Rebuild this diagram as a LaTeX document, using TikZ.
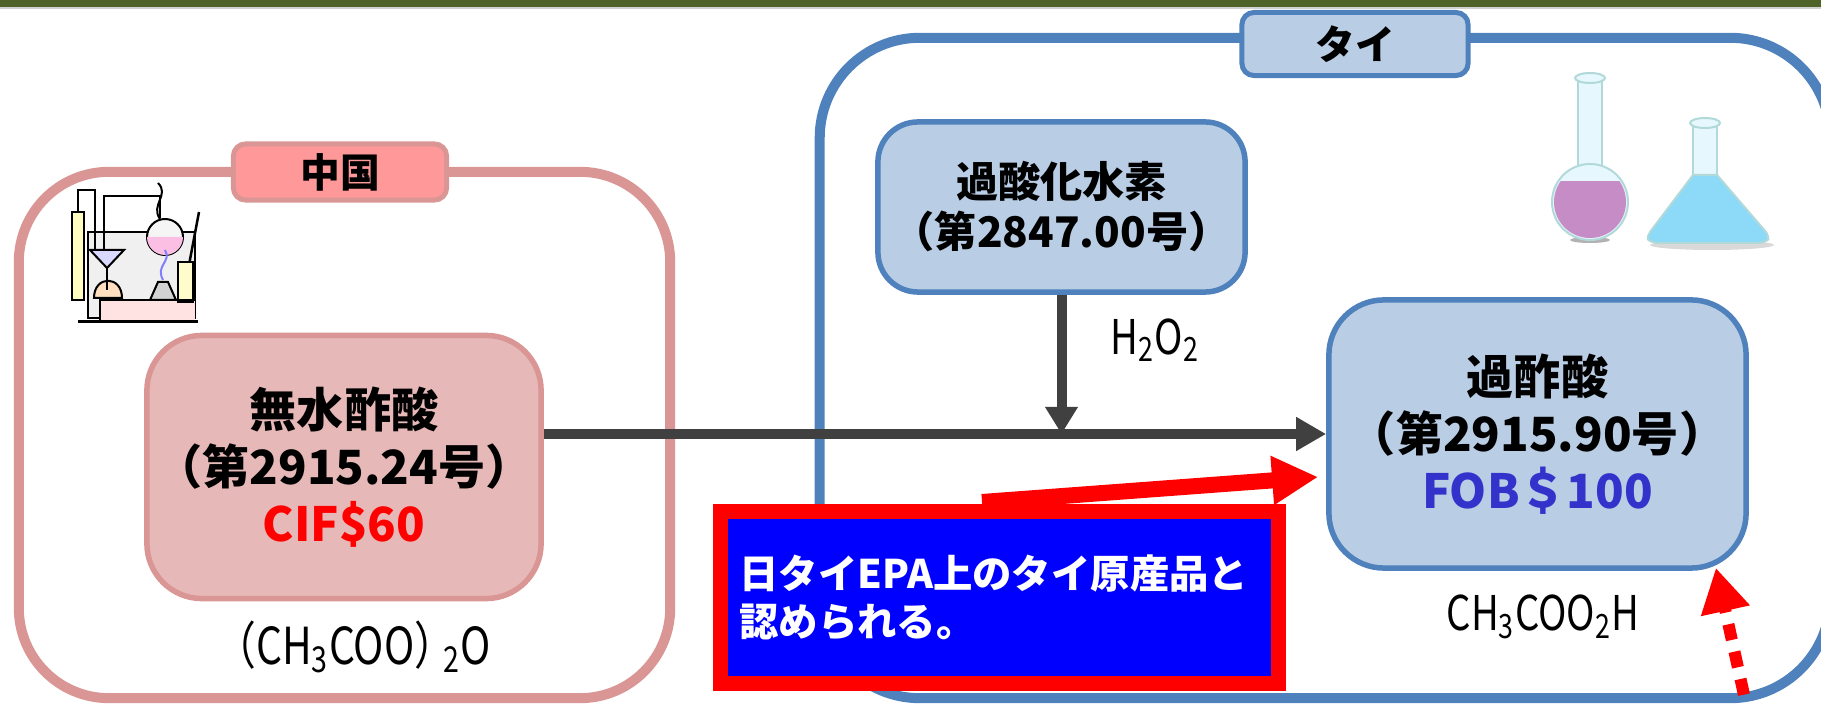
\documentclass[tikz,border=0pt]{standalone}
\usepackage{fontspec}
\usepackage{graphicx}
\setmainfont{Noto Sans CJK JP}
\usetikzlibrary{arrows.meta}
\usetikzlibrary{calc}
\definecolor{barolive}{HTML}{4F6228}
\definecolor{pinkline}{HTML}{D99694}
\definecolor{pinklabel}{HTML}{FF9999}
\definecolor{pinkfill}{HTML}{E6B9B8}
\definecolor{blueline}{HTML}{4F81BD}
\definecolor{bluefill}{HTML}{B9CDE5}
\definecolor{arrowgray}{HTML}{404040}
\definecolor{fobblue}{HTML}{3333CC}
\newcommand{\narrowtxt}[1]{\scalebox{0.8}[1]{#1}}
\newcommand{\bigjp}{\fontsize{13.4}{16.2}\selectfont\bfseries}
\begin{document}
\begin{tikzpicture}[x=0.01cm, y=-0.01cm,
	region/.style={draw, line width=0.1cm, inner sep=0pt},
	tag/.style={draw, line width=0.05cm, rounded corners=0.12cm, inner sep=0pt, font=\fontsize{11.3}{13}\selectfont\bfseries},
	item/.style={draw, line width=0.055cm, inner sep=0pt, align=center},
	formula/.style={inner sep=0pt, font=\fontsize{13.6}{15}\selectfont},
	flow/.style={draw=arrowgray, line width=0.1cm, -{Triangle[length=0.3cm, width=0.32cm]}}]
	\useasboundingbox (0,0) rectangle (1821,704);
	\clip (0,0) rectangle (1821,704);
	\fill[barolive] (0,0) rectangle (1821,7.5);
	\fill[gray!35] (0,7.5) rectangle (1821,9);
	\node[region, draw=pinkline, rounded corners=0.9cm, minimum width=6.51cm, minimum height=5.26cm] (china) at (344.5,435) {};
	\node[region, draw=blueline, rounded corners=1cm, minimum width=10.1cm, minimum height=6.6cm] (thai) at (1325,368) {};
	\node[tag, draw=pinkline, fill=pinklabel, minimum width=2.13cm, minimum height=0.56cm] (chinatag) at (340,172) {中国};
	\node[tag, draw=blueline, fill=bluefill, minimum width=2.26cm, minimum height=0.63cm] (thaitag) at (1355,44) {タイ};
	\draw[line width=0.015cm, fill=gray!12] (88,232) rectangle (195,318);
	\fill[pink!45] (100,300) rectangle (195,322);
	\draw[line width=0.02cm, fill=yellow!25] (72,212) rectangle (84,300);
	\draw[line width=0.025cm] (78,212) -- (78,190) -- (95,190) -- (95,250);
	\draw[line width=0.025cm] (104,250) -- (104,196) -- (160,196) -- (160,218);
	\draw[line width=0.02cm, fill=gray!8] (165,237) circle (18);
	\fill[magenta!25] (147,237) arc (180:0:18) -- cycle;
	\draw[line width=0.02cm] (160,219) .. controls (150,205) and (170,195) .. (158,183);
	\filldraw[line width=0.02cm, fill=blue!15] (90,250) -- (124,250) -- (107,268) -- cycle;
	\filldraw[line width=0.02cm, fill=orange!25] (94,298) .. controls (94,275) and (122,275) .. (122,298) -- cycle;
	\draw[line width=0.02cm] (107,268) -- (107,290);
	\filldraw[line width=0.02cm, fill=gray!35] (150,300) -- (158,282) -- (168,282) -- (176,300) -- cycle;
	\draw[line width=0.02cm, blue!50] (163,280) .. controls (155,265) and (172,262) .. (165,250);
	\draw[line width=0.025cm] (182,302) -- (199,212);
	\filldraw[line width=0.02cm, fill=yellow!20] (178,262) rectangle (193,302);
	\draw[line width=0.03cm] (78,322) -- (198,322);
	\draw[line width=0.02cm] (100,322) -- (100,300) -- (196,300);
	\draw[line width=0.02cm, draw=teal!30, fill=cyan!10] (1578,80) rectangle (1602,170);
	\draw[line width=0.02cm, draw=teal!30, fill=cyan!10] (1590,78) ellipse (15 and 5);
	\fill[gray!60] (1590,240) ellipse (20 and 3);
	\draw[line width=0.02cm, draw=teal!30, fill=cyan!10] (1590,202) circle (38);
	\begin{scope}
		\clip (1550,182) rectangle (1630,242);
		\fill[violet!45] (1590,202) circle (36);
	\end{scope}
	\draw[line width=0.02cm, draw=teal!30, fill=cyan!10] (1693,125) rectangle (1717,178);
	\draw[line width=0.02cm, draw=teal!30, fill=cyan!10] (1705,123) ellipse (15 and 5);
	\fill[gray!30] (1712,245) ellipse (62 and 5);
	\filldraw[line width=0.02cm, draw=teal!30, fill=cyan!45] (1693,175) -- (1650,232) .. controls (1646,240) .. (1656,243) -- (1760,243) .. controls (1770,240) .. (1766,232) -- (1717,175) -- cycle;
	\node[item, draw=pinkline, fill=pinkfill, rounded corners=0.55cm, minimum width=3.94cm, minimum height=2.63cm, font=\bigjp] (anh) at (344,467) {無水酢酸\\（第2915.24号）\\\textcolor{red}{CIF\$60}};
	\node[item, draw=blueline, fill=bluefill, rounded corners=0.4cm, minimum width=3.67cm, minimum height=1.7cm, font=\fontsize{12}{14.2}\selectfont\bfseries] (hperox) at (1061.5,207) {過酸化水素\\（第2847.00号）};
	\node[item, draw=blueline, fill=bluefill, rounded corners=0.55cm, minimum width=4.17cm, minimum height=2.68cm, font=\bigjp] (per) at (1537.5,434) {過酢酸\\（第2915.90号）\\\textcolor{fobblue}{FOB＄100}};
	\node[formula, font=\fontsize{14.5}{16}\selectfont] (anhf) at (353,647) {\narrowtxt{（CH\textsubscript{3}COO）\hspace{-0.3em}\textsubscript{2}O}};
	\node[formula] (perf) at (1543,617) {\narrowtxt{CH\textsubscript{3}COO\textsubscript{2}H}};
	\node[formula] (hperoxf) at (1155,340) {\narrowtxt{H\textsubscript{2}O\textsubscript{2}}};
	\coordinate (join) at (hperox.south |- per.west);
	\draw[flow] (anh.east |- per.west) -- (per.west);
	\draw[flow, -{Triangle[length=0.27cm, width=0.31cm]}] (hperox.south) -- (join);
	\coordinate (redtail) at (982,502);
	\draw[red, line width=0.16cm, -{Triangle[length=0.46cm, width=0.46cm]}] (redtail) -- ($(per.west)+(-8,43)$);
	\node[draw=red, fill=blue, line width=0.15cm, minimum width=5.58cm, minimum height=1.72cm, text width=5.2cm, inner sep=0.19cm, align=left, text=white, font=\fontsize{11.2}{13.7}\selectfont\bfseries] (epa) at (999.5,597.5) {日タイEPA上のタイ原産品と\\認められる。};
	\coordinate (dottail) at (1750,722);
	\draw[red, line width=0.12cm, dash pattern=on 0.16cm off 0.12cm, -{Triangle[length=0.44cm, width=0.47cm]}] (dottail) -- ($(per.south east)+(-33,-3)$);
\end{tikzpicture}
\end{document}
